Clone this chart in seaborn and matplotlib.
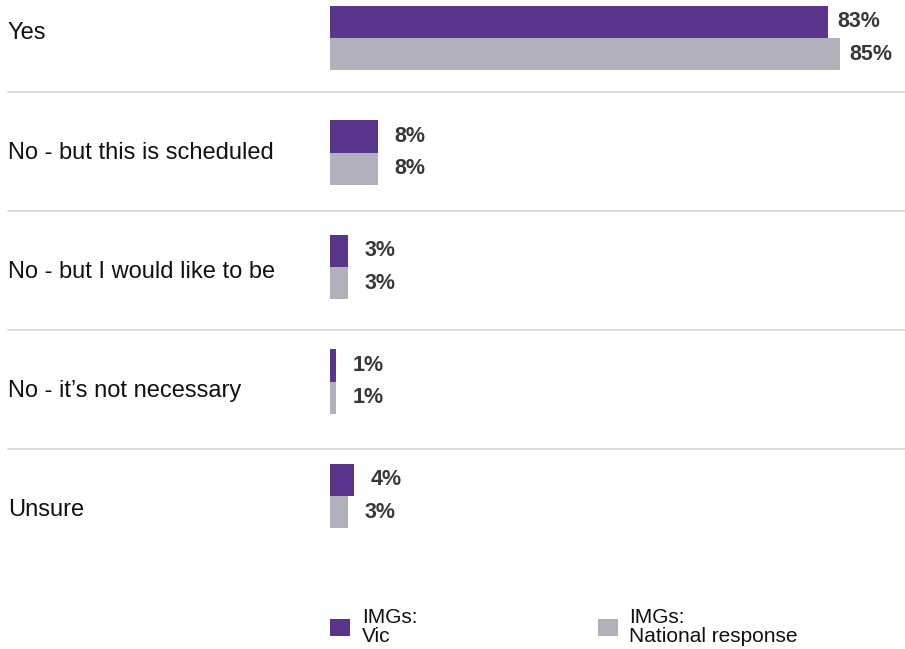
import pandas as pd
import matplotlib.pyplot as plt
import seaborn as sns

# chart values
categories = ['Yes', 'No - but this is scheduled', 'No - but I would like to be',
              'No - it\u2019s not necessary', 'Unsure']
vic = [83, 8, 3, 1, 4]
national = [85, 8, 3, 1, 3]
series_names = ['IMGs:\nVic', 'IMGs:\nNational response']
colors = ['#59358c', '#b1b0bb']

df = pd.DataFrame({
    'category': categories * 2,
    'value': vic + national,
    'series': [series_names[0]] * len(vic) + [series_names[1]] * len(national),
})

sns.set_style('white')
plt.rcParams['font.family'] = ['Liberation Sans', 'DejaVu Sans']

fig = plt.figure(figsize=(9.05, 6.49), dpi=100)
ax = fig.add_axes([330 / 905, 0, 575 / 905, 1])

sns.barplot(data=df, y='category', x='value', hue='series', orient='h',
            palette=colors, saturation=1, width=0.56, linewidth=0, ax=ax)

ax.set_xlim(0, 575 / 6)
ax.set_ylim(5.336, -0.332)
ax.axis('off')

# value labels next to each bar
for cont in ax.containers:
    for bar in cont:
        w = bar.get_width()
        pad = 6.5 if w > 50 else 12
        ax.annotate(f'{w:.0f}%', (w, bar.get_y() + bar.get_height() / 2),
                    xytext=(pad, 0), textcoords='offset points',
                    ha='left', va='center', fontsize=15.5, fontweight='bold',
                    color='#383838')

# category labels and separator lines (spaced a bit wider than the bars)
for i, cat in enumerate(categories):
    ax.text(-53.7, i * 1.04 - 0.04, cat, ha='left', va='center',
            fontsize=17, color='#111111', clip_on=False)
for k in range(len(categories) - 1):
    ax.axhline(0.472 + 1.04 * k, xmin=-0.56, xmax=1, color='#d9d9d9',
               linewidth=1.3, clip_on=False)

leg = ax.legend(loc='lower left', bbox_to_anchor=(0, 0.004), ncol=2,
                frameon=False, fontsize=15, handlelength=0.98, handleheight=0.9,
                handletextpad=0.55, columnspacing=8.65, borderpad=0,
                borderaxespad=0)
for t in leg.get_texts():
    t.set_color('#111111')
    t.set_linespacing(1.05)

fig.savefig('out.png', dpi=100)
